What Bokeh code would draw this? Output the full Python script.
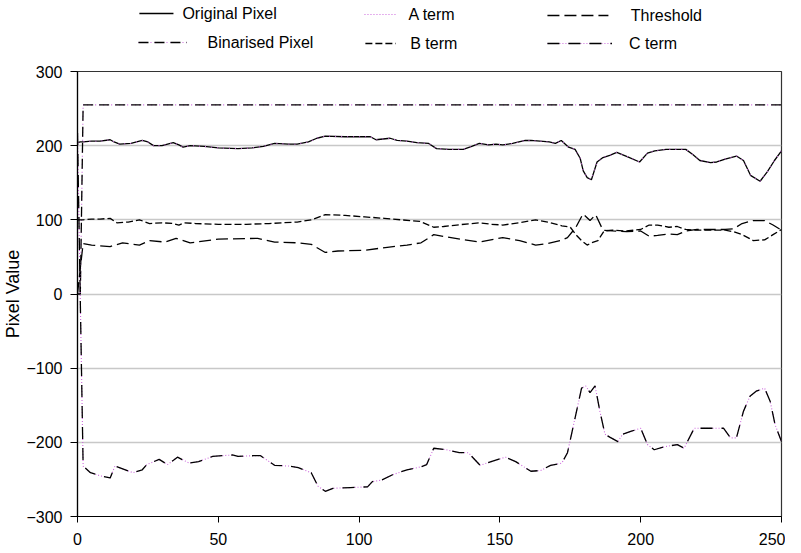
from bokeh.plotting import figure
from bokeh.models import Range1d, FixedTicker
from bokeh.layouts import column
from bokeh.embed import file_html
from bokeh.resources import INLINE
from bokeh.core.properties import value

FONT = "Liberation Sans"
PINK = "#CC66DD"

# ---------------- data ----------------
X_TICKS = [0, 50, 100, 150, 200, 250]
Y_TICKS = [-300, -200, -100, 0, 100, 200, 300]

orig_x = [0, 1, 2, 5, 8, 11.6, 13, 15, 19, 23, 25, 27, 30, 34, 36, 37.5, 40, 45, 50, 57,
          62, 66, 70, 75, 78, 82, 85, 88, 95, 104, 106, 111, 113.5, 117, 120.5, 124.7,
          127.5, 132, 137, 140, 142.7, 146, 148.6, 151, 154.5, 159, 161, 167.5, 169.7,
          171.8, 174.4, 176.7, 178.5, 179.6, 181, 182.5, 184.5, 186.6, 189, 191.5, 195.4,
          199.6, 202.4, 205, 209, 216, 218.5, 221, 224.8, 227, 230, 234, 236.5, 239,
          242.4, 245, 247.5, 250]
orig_y = [204, 205, 205, 206, 206, 208, 205, 202, 203, 207, 205, 200, 200, 204, 201, 198,
          200, 199, 197, 196, 197, 199, 203, 202, 202, 205, 210, 213, 212, 212, 208, 210,
          207, 206, 204, 203, 196, 195, 195, 199, 203, 201, 202, 201, 203, 207, 207, 205,
          203, 207, 198, 195, 183, 166, 157, 154, 178, 184, 187, 191, 185, 178, 190, 193,
          195, 195, 188, 180, 177, 178, 182, 186, 180, 160, 152, 165, 180, 193]

# A term coincides with the original pixel curve
a_x = list(orig_x)
a_y = list(orig_y)

bin_x = [0, 1, 2, 250]
bin_y = [0, 0, 255, 255]

b_x = [0, 1, 2, 5, 8, 11.6, 14, 18, 22, 25.6, 30, 34, 36, 38, 42, 50, 60, 68, 78, 83, 88,
       95, 102, 109, 115, 121.6, 126.5, 130, 134.6, 142.7, 147, 151, 157, 162.7, 167, 172,
       175, 177, 179, 181, 182.5, 184.8, 187, 190, 195, 200, 203, 206, 210, 213, 216, 220,
       225, 230, 233, 236, 240, 244, 247, 250]
b_y = [100, 100, 100, 101, 101, 102, 96, 97, 100, 95, 96, 95, 93, 96, 95, 94, 94, 95, 97,
       100, 107, 106, 104, 102, 100, 98, 90, 91, 93, 96, 94, 93, 96, 100, 97, 92, 90, 80,
       72, 66, 69, 72, 85, 86, 85, 87, 93, 93, 90, 91, 87, 86, 86, 86, 84, 80, 72, 73, 80, 87]

thr_x = [0, 1, 2, 5, 8, 11.6, 16, 22, 25.6, 31, 35, 40, 50, 64, 70, 78, 83, 88, 92.5, 102,
         110, 117, 122, 126.5, 131, 136, 142.7, 151, 157, 162.7, 167, 171.5, 174, 177,
         179.5, 182, 184, 186.6, 190, 195, 200, 203, 206, 210, 213, 216, 220, 225, 230,
         233, 236, 240, 244, 247, 250]
thr_y = [0, 35, 68, 66, 65, 64, 69, 66, 72, 70, 75, 69, 74, 75, 70, 69, 67, 56, 58, 59, 63,
         66, 69, 80, 77, 74, 70, 76, 72, 66, 68, 72, 76, 90, 108, 99, 107, 86, 85, 84, 85,
         78, 79, 81, 80, 85, 87, 87, 87, 88, 95, 99, 99, 93, 86]

c_x = [0, 1, 2, 4.6, 8, 11.6, 13.3, 17, 19.7, 23, 24.6, 29, 32, 35.5, 39.7, 43, 48, 55, 57,
       62.5, 65, 70, 75, 78.4, 83, 85.4, 88, 90.7, 97, 103, 104.7, 108, 111.7, 117, 122,
       124, 126.5, 131, 135.6, 138.8, 143, 146.9, 152, 155.6, 161, 164.5, 168, 172, 174,
       176.7, 179, 180.5, 182, 183.8, 185.5, 187.3, 189, 191.9, 193.6, 196.7, 200, 202.4,
       204.8, 208.4, 213, 215.4, 219, 224.8, 229.4, 231.9, 234, 236.5, 238.8, 241, 244,
       246, 247.7, 250]
c_y = [217, -10, -232, -241, -245, -248, -232, -237, -241, -237, -230, -223, -230, -220,
       -228, -226, -219, -217, -219, -218, -218, -231, -232, -234, -241, -259, -266, -262,
       -261, -260, -253, -251, -244, -237, -233, -230, -208, -210, -214, -214, -231, -226,
       -220, -226, -239, -238, -231, -228, -214, -167, -127, -124, -133, -124, -158, -189,
       -193, -199, -189, -185, -181, -203, -210, -206, -203, -208, -181, -181, -181, -194,
       -194, -158, -138, -131, -127, -145, -176, -199]

LEGEND_LABELS = ["Original Pixel", "A term", "Threshold",
                 "Binarised Pixel", "B term", "C term"]

# ---------------- styles ----------------
def draw_original(fig, x, y):
    fig.line(x, y, line_color="black", line_width=1.3)

def draw_a(fig, x, y, dash="1 5"):
    fig.line(x, y, line_color=PINK, line_width=1.1, line_dash=dash)

def draw_threshold(fig, x, y):
    fig.line(x, y, line_color="black", line_width=1.3, line_dash="12 5")

def draw_binarised(fig, x, y):
    fig.line(x, y, line_color=PINK, line_width=1.1, line_dash="1 3")
    fig.line(x, y, line_color="black", line_width=1.3, line_dash="10 6")

def draw_b(fig, x, y):
    fig.line(x, y, line_color="black", line_width=1.3, line_dash="7 3")

def draw_c(fig, x, y):
    fig.line(x, y, line_color=PINK, line_width=1.1, line_dash="1 2")
    fig.line(x, y, line_color="black", line_width=1.3, line_dash="12 9")

# ---------------- legend strip ----------------
LW, LH = 785, 64
leg = figure(width=LW, height=LH, x_range=Range1d(0, LW), y_range=Range1d(LH, 0),
             output_backend="svg", toolbar_location=None,
             x_axis_location=None, y_axis_location=None,
             min_border=0, min_border_left=0, min_border_right=0,
             min_border_top=0, min_border_bottom=0)
leg.outline_line_color = None
leg.xgrid.visible = False
leg.ygrid.visible = False

legend_layout = [
    (draw_original, 69, 107, 13, 117),
    (draw_a, 320, 355, 14, 369),
    (draw_threshold, 524, 592, 15, 617),
    (draw_binarised, 68, 122, 42, 145),
    (draw_b, 321, 355, 43, 371),
    (draw_c, 524, 596, 43, 615),
]
for (fn, x0, x1, yy, tx), lab in zip(legend_layout, LEGEND_LABELS):
    if fn is draw_a:
        fn(leg, [x0, x1], [yy, yy], dash="1 2")
    else:
        fn(leg, [x0, x1], [yy, yy])
    leg.text(x=[tx], y=[yy], text=[lab], text_font=value(FONT), text_font_size="16px",
             text_baseline="middle", text_align="left", text_color="black")

# ---------------- main chart ----------------
p = figure(width=785, height=488, x_range=Range1d(0, 250), y_range=Range1d(-300, 300),
           output_backend="svg", toolbar_location=None,
           min_border_left=69, min_border_right=4, min_border_top=7, min_border_bottom=36)
p.outline_line_color = "#333333"
p.outline_line_width = 1.2
p.background_fill_color = "white"
p.border_fill_color = "white"

p.xgrid.visible = False
p.ygrid.ticker = FixedTicker(ticks=Y_TICKS)
p.ygrid.grid_line_color = "#c8c8c8"
p.ygrid.grid_line_width = 1.5

for ax, ticks in ((p.xaxis, X_TICKS), (p.yaxis, Y_TICKS)):
    ax.ticker = FixedTicker(ticks=ticks)
    ax.axis_line_color = "black"
    ax.axis_line_width = 1.2
    ax.major_tick_line_color = "black"
    ax.major_tick_in = 0
    ax.minor_tick_line_color = None
    ax.major_label_text_font = FONT
    ax.major_label_text_font_size = "16px"
    ax.major_label_text_color = "black"

p.xaxis.major_tick_out = 6
p.xaxis.major_label_standoff = 10
p.yaxis.major_tick_out = 7
p.yaxis.major_label_standoff = 8
p.yaxis.axis_label = "Pixel Value"
p.yaxis.axis_label_text_font = FONT
p.yaxis.axis_label_text_font_size = "18px"
p.yaxis.axis_label_text_font_style = "normal"
p.yaxis.axis_label_text_color = "black"
p.yaxis.axis_label_standoff = 0

draw_binarised(p, bin_x, bin_y)
draw_c(p, c_x, c_y)
draw_threshold(p, thr_x, thr_y)
draw_b(p, b_x, b_y)
draw_original(p, orig_x, orig_y)
draw_a(p, a_x, a_y)

layout = column(leg, p, spacing=0)
open("out.html", "w").write(file_html(layout, INLINE))
